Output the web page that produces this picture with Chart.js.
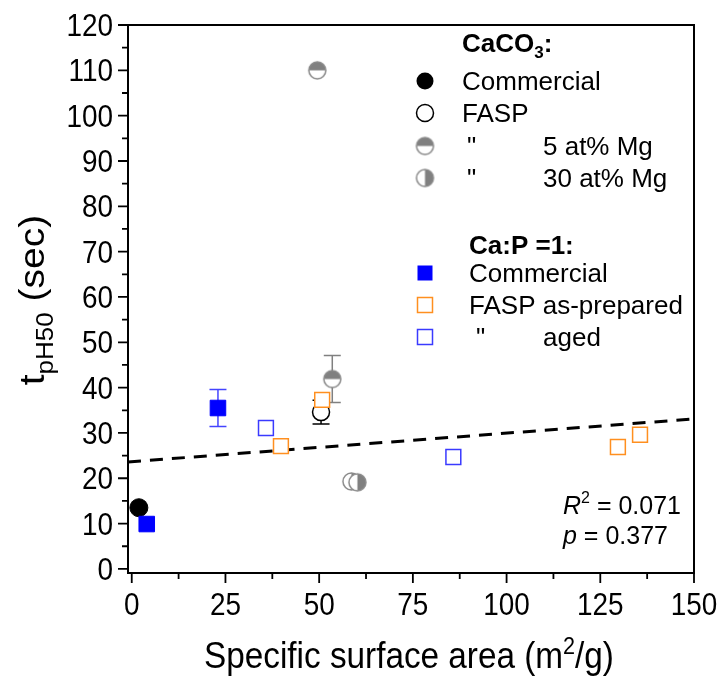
<!DOCTYPE html>
<html lang="en">
<head>
<meta charset="UTF-8">
<title>tpH50 vs specific surface area</title>
<script src="https://cdn.jsdelivr.net/npm/chart.js"></script>
<style>
    html, body {
        margin: 0;
        padding: 0;
        background: #fff;
    }
    canvas {
        display: block;
    }
</style>
</head>
<body>
<canvas id="grafica" width="719" height="680"></canvas>

<script>
    // CaCO3 samples
    const caco3CommX = [1.9];
    const caco3CommY = [13.5];
    const caco3FaspX = [50.5];
    const caco3FaspY = [34.6];
    const caco3FaspErr = [2.6];
    const mg5X = [49.5, 53.5];
    const mg5Y = [110, 41.9];
    const mg5Err = [0, 5.2];
    const mg30X = [58.6, 60.2];
    const mg30Y = [19.3, 19.1];

    // Ca:P = 1 samples
    const capCommX = [4.0, 23.0];
    const capCommY = [9.9, 35.5];
    const capCommErr = [0, 4.1];
    const capFaspX = [39.8, 50.8, 129.7, 135.6];
    const capFaspY = [27.1, 37.3, 26.9, 29.6];
    const capAgedX = [35.8, 85.8];
    const capAgedY = [31.1, 24.7];

    // linear fit (dashed)
    const fitX = [-1, 150];
    const fitY = [23.6, 33.1];

    const xTicks = [0, 25, 50, 75, 100, 125, 150];
    const yTicks = [0, 10, 20, 30, 40, 50, 60, 70, 80, 90, 100, 110, 120];

    const GRAY = '#808080';
    const ORANGE = '#ff8f1f';
    const BLUE = '#0000ff';
    const BLUE_OPEN = '#3a3aff';
    const SQ = 0.9; // axis text of the source figure is squeezed a bit horizontally

    function pts(xs, ys) {
        return xs.map((x, i) => ({ x: x, y: ys[i] }));
    }

    // half filled circles used as point styles
    function halfCircle(side) {
        const c = document.createElement('canvas');
        c.width = 21;
        c.height = 21;
        const g = c.getContext('2d');
        const m = 10.5, r = 8.5;
        g.beginPath();
        g.arc(m, m, r, 0, Math.PI * 2);
        g.fillStyle = '#fff';
        g.fill();
        g.beginPath();
        if (side === 'top') {
            g.arc(m, m, r, Math.PI, 0);
        } else {
            g.arc(m, m, r, -Math.PI / 2, Math.PI / 2);
        }
        g.closePath();
        g.fillStyle = GRAY;
        g.fill();
        g.beginPath();
        g.arc(m, m, r, 0, Math.PI * 2);
        g.lineWidth = 1.5;
        g.strokeStyle = '#8a8a8a';
        g.stroke();
        return c;
    }
    const mg5Style = halfCircle('top');
    const mg30Style = halfCircle('right');

    function fontStr(r) {
        return (r.i ? 'italic ' : '') + (r.b ? 'bold ' : '') + r.s + 'px "Liberation Sans", Arial, sans-serif';
    }

    // draws runs of text (for sub/superscripts) on the current transform
    function richText(g, runs, x, y, align) {
        let total = 0;
        runs.forEach(r => { g.font = fontStr(r); total += g.measureText(r.t).width; });
        let cx = x;
        if (align === 'center') cx = x - total / 2;
        if (align === 'right') cx = x - total;
        g.textAlign = 'left';
        g.textBaseline = 'alphabetic';
        runs.forEach(r => {
            g.font = fontStr(r);
            g.fillText(r.t, cx, y + (r.dy || 0));
            cx += g.measureText(r.t).width;
        });
    }

    function squeezed(g, runs, x, y, align, sx) {
        g.save();
        g.translate(x, y);
        g.scale(sx === undefined ? SQ : sx, 1);
        richText(g, runs, 0, 0, align);
        g.restore();
    }

    const errorBars = {
        id: 'errorBars',
        beforeDatasetsDraw(chart) {
            const g = chart.ctx;
            const xs = chart.scales.x, ys = chart.scales.y;
            chart.data.datasets.forEach(ds => {
                if (!ds.errors) return;
                ds.data.forEach((p, i) => {
                    const e = ds.errors[i];
                    if (!e) return;
                    const px = xs.getPixelForValue(p.x);
                    const top = ys.getPixelForValue(p.y + e);
                    const bot = ys.getPixelForValue(p.y - e);
                    g.save();
                    g.strokeStyle = ds.errorColor;
                    g.lineWidth = 1.5;
                    g.beginPath();
                    g.moveTo(px, top); g.lineTo(px, bot);
                    g.moveTo(px - 8.5, top); g.lineTo(px + 8.5, top);
                    g.moveTo(px - 8.5, bot); g.lineTo(px + 8.5, bot);
                    g.stroke();
                    g.restore();
                });
            });
        }
    };

    const decorations = {
        id: 'decorations',
        afterDraw(chart) {
            const g = chart.ctx;
            const a = chart.chartArea;
            const xs = chart.scales.x, ys = chart.scales.y;
            g.save();
            g.fillStyle = '#000';
            g.strokeStyle = '#000';

            // frame
            g.lineWidth = 2;
            g.strokeRect(a.left, a.top, a.right - a.left, a.bottom - a.top);

            // ticks, major and minor
            g.lineWidth = 1.8;
            g.beginPath();
            xTicks.forEach((v, i) => {
                const px = xs.getPixelForValue(v);
                g.moveTo(px, a.bottom); g.lineTo(px, a.bottom + 10);
                if (i < xTicks.length - 1) {
                    const mx = xs.getPixelForValue((v + xTicks[i + 1]) / 2);
                    g.moveTo(mx, a.bottom); g.lineTo(mx, a.bottom + 6);
                }
            });
            yTicks.forEach((v, i) => {
                const py = ys.getPixelForValue(v);
                g.moveTo(a.left, py); g.lineTo(a.left - 10, py);
                if (i < yTicks.length - 1) {
                    const my = ys.getPixelForValue((v + yTicks[i + 1]) / 2);
                    g.moveTo(a.left, my); g.lineTo(a.left - 6, my);
                }
            });
            g.stroke();

            // tick labels
            xTicks.forEach(v => {
                squeezed(g, [{ t: String(v), s: 31 }], xs.getPixelForValue(v), a.bottom + 42, 'center');
            });
            yTicks.forEach(v => {
                squeezed(g, [{ t: String(v), s: 31 }], a.left - 15, ys.getPixelForValue(v) + 11, 'right');
            });

            // axis titles
            squeezed(g, [
                { t: 'Specific surface area (m', s: 37 },
                { t: '2', s: 24, dy: -14 },
                { t: '/g)', s: 37 }
            ], (a.left + a.right) / 2 - 2, 668, 'center');

            g.save();
            g.translate(44, (a.top + a.bottom) / 2 + 1);
            g.rotate(-Math.PI / 2);
            g.scale(1, SQ);
            richText(g, [
                { t: 't', s: 39 },
                { t: 'pH50', s: 26, dy: 10 },
                { t: ' (sec)', s: 39 }
            ], 0, 0, 'center');
            g.restore();

            // legend
            const mx = 425, tx1 = 462, tx2 = 469;
            squeezed(g, [
                { t: 'CaCO', s: 26, b: true },
                { t: '3', s: 17, b: true, dy: 6 },
                { t: ':', s: 26, b: true }
            ], tx1, 52, 'left', 1);

            g.lineWidth = 1.5;
            g.beginPath(); g.arc(mx, 81, 8.5, 0, Math.PI * 2);
            g.fillStyle = '#000'; g.fill();
            g.beginPath(); g.arc(mx, 113, 8.5, 0, Math.PI * 2);
            g.fillStyle = '#fff'; g.fill(); g.strokeStyle = '#000'; g.stroke();
            g.drawImage(mg5Style, mx - 10.5, 146 - 10.5);
            g.drawImage(mg30Style, mx - 10.5, 178 - 10.5);

            g.fillStyle = '#000';
            squeezed(g, [{ t: 'Commercial', s: 26 }], tx1, 90, 'left', 1);
            squeezed(g, [{ t: 'FASP', s: 26 }], tx1, 122, 'left', 1);
            squeezed(g, [{ t: '"', s: 26 }], 467, 155, 'left', 1);
            squeezed(g, [{ t: '5 at% Mg', s: 26 }], 543, 155, 'left', 1);
            squeezed(g, [{ t: '"', s: 26 }], 467, 187, 'left', 1);
            squeezed(g, [{ t: '30 at% Mg', s: 26 }], 543, 187, 'left', 1);

            squeezed(g, [{ t: 'Ca:P =1:', s: 26, b: true }], tx2, 254, 'left', 1);
            g.fillStyle = BLUE;
            g.fillRect(mx - 7.5, 273 - 7.5, 15, 15);
            g.fillStyle = '#fff';
            g.lineWidth = 1.5;
            g.strokeStyle = ORANGE;
            g.fillRect(mx - 7.5, 305 - 7.5, 15, 15);
            g.strokeRect(mx - 7.5, 305 - 7.5, 15, 15);
            g.strokeStyle = BLUE_OPEN;
            g.strokeRect(mx - 7.5, 337 - 7.5, 15, 15);

            g.fillStyle = '#000';
            squeezed(g, [{ t: 'Commercial', s: 26 }], tx2, 282, 'left', 1);
            squeezed(g, [{ t: 'FASP as-prepared', s: 26 }], tx2, 314, 'left', 1);
            squeezed(g, [{ t: '"', s: 26 }], 476, 346, 'left', 1);
            squeezed(g, [{ t: 'aged', s: 26 }], 543, 346, 'left', 1);

            // fit statistics
            squeezed(g, [
                { t: 'R', s: 25, i: true },
                { t: '2', s: 16, dy: -11 },
                { t: ' = 0.071', s: 25 }
            ], 563, 514, 'left', 1);
            squeezed(g, [
                { t: 'p', s: 25, i: true },
                { t: ' = 0.377', s: 25 }
            ], 563, 544, 'left', 1);

            g.restore();
        }
    };

    const ctx = document.getElementById('grafica').getContext('2d');
    const myChart = new Chart(ctx, {
        type: 'scatter',
        data: {
            datasets: [
                {
                    label: 'Linear fit',
                    data: pts(fitX, fitY),
                    showLine: true,
                    borderColor: '#000',
                    borderWidth: 3,
                    borderDash: [13, 9],
                    pointRadius: 0,
                    order: 8
                },
                {
                    label: 'CaCO3 Commercial',
                    data: pts(caco3CommX, caco3CommY),
                    pointStyle: 'circle',
                    pointRadius: 9,
                    backgroundColor: '#000',
                    borderColor: '#000',
                    borderWidth: 1,
                    order: 7
                },
                {
                    label: 'CaCO3 FASP',
                    data: pts(caco3FaspX, caco3FaspY),
                    errors: caco3FaspErr,
                    errorColor: '#000',
                    pointStyle: 'circle',
                    pointRadius: 8.5,
                    backgroundColor: '#fff',
                    borderColor: '#000',
                    borderWidth: 1.5,
                    order: 6
                },
                {
                    label: 'CaCO3 FASP 5 at% Mg',
                    data: pts(mg5X, mg5Y),
                    errors: mg5Err,
                    errorColor: GRAY,
                    pointStyle: mg5Style,
                    order: 5
                },
                {
                    label: 'CaCO3 FASP 30 at% Mg',
                    data: pts(mg30X, mg30Y),
                    pointStyle: mg30Style,
                    order: 4
                },
                {
                    label: 'Ca:P=1 aged',
                    data: pts(capAgedX, capAgedY),
                    pointStyle: 'rect',
                    pointRadius: 10.5,
                    backgroundColor: '#fff',
                    borderColor: BLUE_OPEN,
                    borderWidth: 1.5,
                    order: 3
                },
                {
                    label: 'Ca:P=1 FASP as-prepared',
                    data: pts(capFaspX, capFaspY),
                    pointStyle: 'rect',
                    pointRadius: 10.5,
                    backgroundColor: '#fff',
                    borderColor: ORANGE,
                    borderWidth: 1.5,
                    order: 2
                },
                {
                    label: 'Ca:P=1 Commercial',
                    data: pts(capCommX, capCommY),
                    errors: capCommErr,
                    errorColor: '#4444ff',
                    pointStyle: 'rect',
                    pointRadius: 11,
                    backgroundColor: BLUE,
                    borderColor: BLUE,
                    borderWidth: 1,
                    order: 1
                }
            ]
        },
        options: {
            responsive: false,
            animation: false,
            events: [],
            layout: {
                padding: { top: 25, right: 25, left: 0, bottom: 0 }
            },
            plugins: {
                legend: { display: false },
                tooltip: { enabled: false }
            },
            scales: {
                x: {
                    type: 'linear',
                    min: -1,
                    max: 150,
                    ticks: { display: false },
                    grid: { display: false, drawTicks: false },
                    border: { display: false },
                    afterFit: s => { s.height = 107; }
                },
                y: {
                    type: 'linear',
                    min: -0.9,
                    max: 120,
                    ticks: { display: false },
                    grid: { display: false, drawTicks: false },
                    border: { display: false },
                    afterFit: s => { s.width = 128; }
                }
            }
        },
        plugins: [errorBars, decorations]
    });
</script>
</body>
</html>
